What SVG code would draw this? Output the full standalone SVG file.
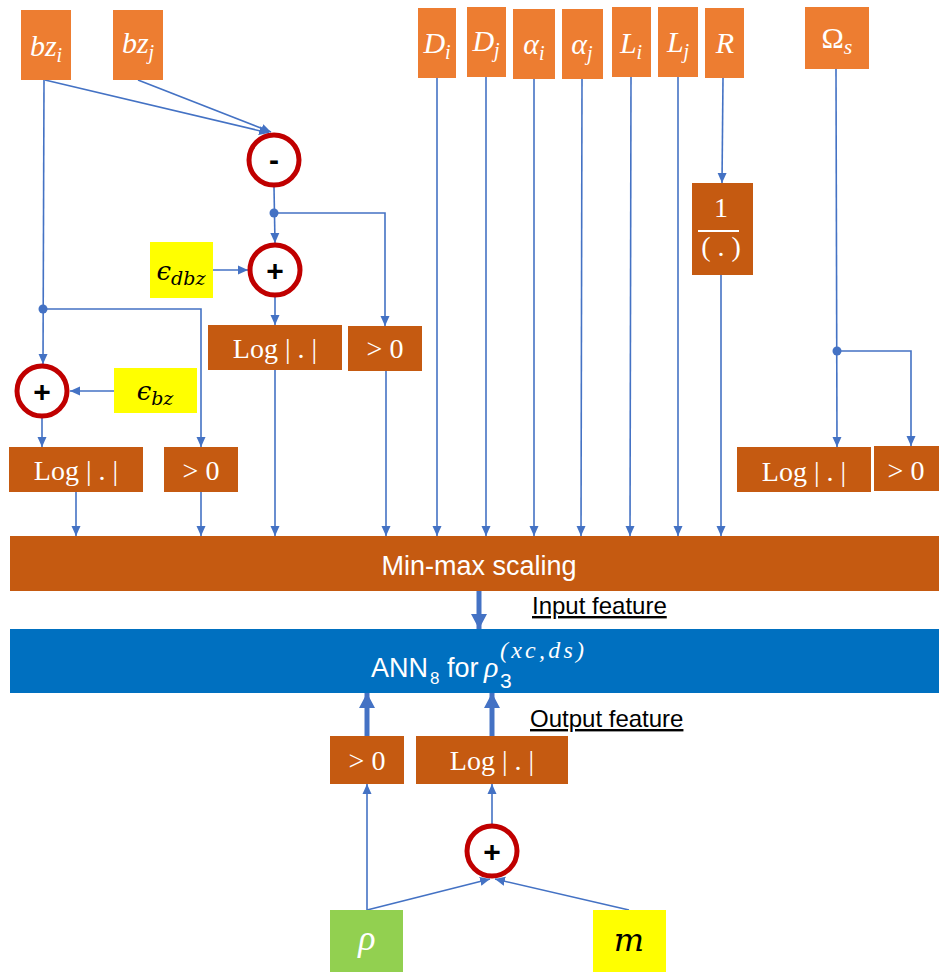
<svg xmlns="http://www.w3.org/2000/svg" width="939" height="972" viewBox="0 0 939 972">
<defs>
<style>
.in{fill:#ED7D31}
.op{fill:#C55A11}
.yl{fill:#FFFF00}
.m{font-family:"Liberation Serif","DejaVu Serif",serif;font-style:italic;font-size:30px;fill:#fff;text-anchor:middle}
.ms{font-family:"Liberation Serif","DejaVu Serif",serif;font-style:italic;fill:#fff}
.mk{font-family:"DejaVu Serif","Liberation Serif",serif;font-style:italic;font-size:26px;fill:#000;text-anchor:middle}
.t{font-family:"Liberation Serif","DejaVu Serif",serif;font-size:28px;fill:#fff;text-anchor:middle}
.s{font-family:"Liberation Sans",Arial,sans-serif;fill:#fff}
.u{font-family:"Liberation Sans",Arial,sans-serif;font-size:24px;fill:#000;text-decoration:underline}
.c{fill:#fff;stroke:#C00000;stroke-width:5}
.cs{font-family:"Liberation Sans",Arial,sans-serif;font-weight:bold;font-size:30px;fill:#000;text-anchor:middle}
.ln{fill:none;stroke:#4472C4;stroke-width:1.6}
.a{marker-end:url(#ah)}
.th{fill:none;stroke:#4472C4;stroke-width:5;marker-end:url(#th)}
</style>
<marker id="ah" markerUnits="userSpaceOnUse" markerWidth="10" markerHeight="10" viewBox="0 0 10 10" refX="10" refY="5" orient="auto">
<path d="M0,0.5 L10,5 L0,9.5 z" fill="#4472C4"/>
</marker>
<marker id="th" markerUnits="userSpaceOnUse" markerWidth="15" markerHeight="16" viewBox="0 0 15 16" refX="15" refY="8" orient="auto">
<path d="M0,0 L15,8 L0,16 z" fill="#4472C4"/>
</marker>
</defs>
<rect width="939" height="972" fill="#fff"/>

<g id="connectors">
<path class="ln a" d="M45,80 L269,133"/>
<path class="ln a" d="M138,80 L271,132"/>
<path class="ln a" d="M44,80 L43,364"/>
<path class="ln a" d="M43,309 L201,309 L201,447"/>
<path class="ln a" d="M114,391 L70,391"/>
<path class="ln a" d="M42,418 L42,447"/>
<path class="ln a" d="M76,492 L76,536"/>
<path class="ln a" d="M201,492 L201,536"/>
<path class="ln a" d="M274,187 L275,243"/>
<path class="ln a" d="M274,213 L385,213 L385,326"/>
<path class="ln a" d="M213,270 L248,270"/>
<path class="ln a" d="M275,297 L275,325"/>
<path class="ln a" d="M275,370 L275,536"/>
<path class="ln a" d="M386,371 L386,536"/>
<path class="ln a" d="M437,78 L437,536"/>
<path class="ln a" d="M486,77 L486,536"/>
<path class="ln a" d="M534,79 L534,536"/>
<path class="ln a" d="M582,79 L581,536"/>
<path class="ln a" d="M631,77 L630,536"/>
<path class="ln a" d="M678,77 L678,536"/>
<path class="ln a" d="M723,78 L722,183"/>
<path class="ln a" d="M721,275 L721,536"/>
<path class="ln a" d="M836,69 L837,447"/>
<path class="ln a" d="M837,351 L911,351 L911,446"/>
<circle cx="43" cy="309" r="4.5" fill="#4472C4"/>
<circle cx="274" cy="213" r="4.5" fill="#4472C4"/>
<circle cx="837" cy="351" r="4.5" fill="#4472C4"/>
<path class="th" d="M479,591 L479,629"/>
<path class="th" d="M367,736 L367,693"/>
<path class="th" d="M492,736 L492,693"/>
<path class="ln a" d="M367,910 L367,784"/>
<path class="ln a" d="M367,910 L490,879"/>
<path class="ln a" d="M629,910 L495,879"/>
<path class="ln a" d="M492,824 L492,784"/>
</g>

<g id="bzi"><rect class="in" x="21" y="10" width="50" height="70"/><text class="m" x="46" y="56">bz<tspan font-size="20" dy="6">i</tspan></text></g>
<g id="bzj"><rect class="in" x="113" y="10" width="50" height="70"/><text class="m" x="138" y="53">bz<tspan font-size="20" dy="6">j</tspan></text></g>
<g id="Di"><rect class="in" x="418" y="8" width="38" height="70"/><text class="m" x="437" y="53">D<tspan font-size="20" dy="6">i</tspan></text></g>
<g id="Dj"><rect class="in" x="467" y="7" width="39" height="70"/><text class="m" x="486" y="51">D<tspan font-size="20" dy="6">j</tspan></text></g>
<g id="ai"><rect class="in" x="513" y="9" width="42" height="70"/><text class="m" x="534" y="54">α<tspan font-size="20" dy="6">i</tspan></text></g>
<g id="aj"><rect class="in" x="562" y="9" width="41" height="70"/><text class="m" x="582" y="54">α<tspan font-size="20" dy="6">j</tspan></text></g>
<g id="Li"><rect class="in" x="612" y="7" width="39" height="70"/><text class="m" x="631" y="53">L<tspan font-size="20" dy="6">i</tspan></text></g>
<g id="Lj"><rect class="in" x="658" y="7" width="40" height="70"/><text class="m" x="678" y="52">L<tspan font-size="20" dy="6">j</tspan></text></g>
<g id="R"><rect class="in" x="705" y="8" width="39" height="70"/><text class="m" x="725" y="53">R</text></g>
<g id="Omega"><rect class="in" x="805" y="7" width="64" height="62"/><text class="m" x="837" y="48"><tspan font-style="normal">Ω</tspan><tspan font-size="22" dy="6">s</tspan></text></g>

<g id="minus"><circle class="c" cx="274" cy="160" r="25"/><text class="cs" x="274" y="170">-</text></g>
<g id="plus1"><circle class="c" cx="275" cy="270" r="25"/><text class="cs" x="275" y="281">+</text></g>
<g id="plus2"><circle class="c" cx="42" cy="391" r="25"/><text class="cs" x="42" y="402">+</text></g>
<g id="plus3"><circle class="c" cx="492" cy="851" r="25"/><text class="cs" x="492" y="862">+</text></g>

<g id="edbz"><rect class="yl" x="150" y="242" width="63" height="56"/><text class="mk" x="181" y="280">ϵ<tspan font-size="19" dy="5">dbz</tspan></text></g>
<g id="ebz"><rect class="yl" x="114" y="368" width="83" height="45"/><text class="mk" x="155" y="400">ϵ<tspan font-size="19" dy="5">bz</tspan></text></g>

<g id="log1"><rect class="op" x="208" y="325" width="134" height="45"/><text class="t" x="275" y="358">Log | . |</text></g>
<g id="gt1"><rect class="op" x="348" y="326" width="74" height="45"/><text class="t" x="385" y="358">&gt; 0</text></g>
<g id="log2"><rect class="op" x="9" y="447" width="134" height="45"/><text class="t" x="76" y="480">Log | . |</text></g>
<g id="gt2"><rect class="op" x="164" y="447" width="74" height="45"/><text class="t" x="201" y="480">&gt; 0</text></g>
<g id="inv"><rect class="op" x="692" y="183" width="61" height="92"/><text class="t" x="721" y="217">1</text><line x1="698" y1="231" x2="739" y2="231" stroke="#fff" stroke-width="2"/><text class="t" x="721" y="256">( . )</text></g>
<g id="log3"><rect class="op" x="737" y="447" width="134" height="45"/><text class="t" x="804" y="481">Log | . |</text></g>
<g id="gt3"><rect class="op" x="874" y="446" width="65" height="45"/><text class="t" x="906" y="480">&gt; 0</text></g>

<g id="minmax"><rect class="op" x="10" y="536" width="929" height="55"/><text class="s" x="479" y="575" font-size="27" text-anchor="middle">Min-max scaling</text></g>
<text class="u" x="532" y="614">Input feature</text>
<g id="ann"><rect x="10" y="629" width="929" height="64" fill="#0070C0"/>
<text class="s" x="371" y="677" font-size="27">ANN</text>
<text class="s" x="430" y="684" font-size="17">8</text>
<text class="s" x="447" y="677" font-size="27">for</text>
<text class="ms" x="484" y="677" font-size="30">ρ</text>
<text class="s" x="500" y="688" font-size="21" font-family="Liberation Serif">3</text>
<text class="ms" x="500" y="658" font-size="24" textLength="84" lengthAdjust="spacing">(xc,ds)</text>
</g>
<text class="u" x="530" y="727">Output feature</text>

<g id="gt4"><rect class="op" x="330" y="736" width="74" height="48"/><text class="t" x="367" y="770">&gt; 0</text></g>
<g id="log4"><rect class="op" x="416" y="736" width="152" height="48"/><text class="t" x="492" y="770">Log | . |</text></g>
<g id="rho"><rect x="330" y="910" width="73" height="62" fill="#92D050"/><text class="m" x="367" y="950" style="font-size:36px">ρ</text></g>
<g id="m"><rect class="yl" x="593" y="910" width="73" height="62"/><text class="mk" x="629" y="951" style="font-size:32px">m</text></g>
</svg>
